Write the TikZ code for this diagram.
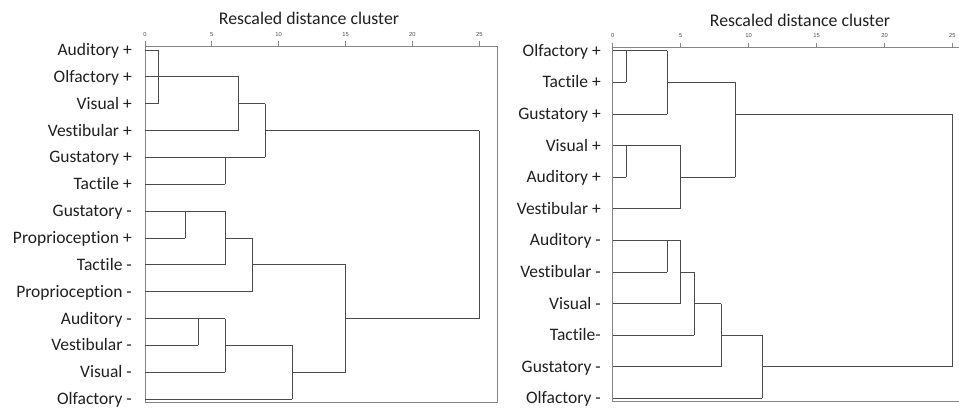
\documentclass[tikz,border=0pt]{standalone}
\usepackage{fontspec}
\setmainfont[Ligatures={NoCommon,NoContextual}]{Carlito}
\newfontfamily\tickfont{Liberation Sans}
\definecolor{txt}{HTML}{202020}
\definecolor{dline}{HTML}{4A4A4A}
\definecolor{fline}{HTML}{858585}
\newcommand\lxd[1]{(145+13.37*#1)}
\newcommand\lyr[1]{(50+26.85*#1)}
\newcommand\rxd[1]{(612.7+13.59*#1)}
\newcommand\ryr[1]{(50.8+31.6*#1)}
\tikzset{
  lbl/.style={anchor=base east, inner sep=0pt, text=txt, font=\fontsize{17.5}{20}\selectfont},
  ttl/.style={inner sep=0pt, text=txt, font=\fontsize{17.8}{20}\selectfont},
  ticklbl/.style={inner sep=0pt, text=txt!80, font=\tickfont\fontsize{5.8}{6}\selectfont},
  dend/.style={draw=dline, line width=0.9pt},
  frm/.style={draw=fline, line width=0.9pt},
}
\newcommand\LH[3]{\draw[dend] ({\lxd{#2}},{\lyr{#1}}) -- ({\lxd{#3}},{\lyr{#1}});}
\newcommand\LV[3]{\draw[dend] ({\lxd{#1}},{\lyr{#2}}) -- ({\lxd{#1}},{\lyr{#3}});}
\newcommand\RH[3]{\draw[dend] ({\rxd{#2}},{\ryr{#1}}) -- ({\rxd{#3}},{\ryr{#1}});}
\newcommand\RV[3]{\draw[dend] ({\rxd{#1}},{\ryr{#2}}) -- ({\rxd{#1}},{\ryr{#3}});}
\begin{document}
\begin{tikzpicture}[x=1pt,y=-1pt]
\useasboundingbox (0,0) rectangle (959,409);
\fill[white] (0,0) rectangle (959,409);

% ---------- LEFT PANEL ----------
\node[ttl] (ltitle) at (309,18.5) {Rescaled distance cluster};
\draw[frm] (145,46) rectangle (497.3,402.6);
\foreach \d in {0,5,10,15,20,25} {
  \draw[frm] ({\lxd{\d}},46) -- ({\lxd{\d}},41.5);
  \node[ticklbl] (ltick\d) at ({\lxd{\d}},34.5) {\d};
}
\foreach \t [count=\i from 0] in {Auditory +,Olfactory +,Visual +,Vestibular +,Gustatory +,Tactile +,Gustatory -,Proprioception +,Tactile -,Proprioception -,Auditory -,Vestibular -,Visual -,Olfactory -} {
  \node[lbl] (l\i) at (132,{\lyr{\i}+5.5}) {\t};
}
% upper cluster
\LH{0}{0}{1} \LH{2}{0}{1} \LV{1}{0}{2}
\LH{1}{0}{7} \LH{3}{0}{7} \LV{7}{1}{3}
\LH{2}{7}{9}
\LH{4}{0}{9} \LH{5}{0}{6} \LV{6}{4}{5}
\LV{9}{2}{4}
\LH{3}{9}{25}
\LV{25}{3}{10}
\LH{10}{15}{25}
% lower cluster
\LH{6}{0}{6} \LH{8}{0}{6} \LV{6}{6}{8}
\LH{7}{0}{3} \LV{3}{6}{7}
\LH{7}{6}{8} \LH{9}{0}{8} \LV{8}{7}{9}
\LH{8}{8}{15} \LV{15}{8}{12}
\LH{10}{0}{6} \LH{12}{0}{6} \LV{6}{10}{12}
\LH{11}{0}{4} \LV{4}{10}{11}
\LH{11}{6}{11} \LH{13}{0}{11} \LV{11}{11}{13}
\LH{12}{11}{15}

% ---------- RIGHT PANEL ----------
\node[ttl] (rtitle) at (800,20.5) {Rescaled distance cluster};
\draw[frm] (959,47.3) -- (612.7,47.3) -- (612.7,401.6) -- (959,401.6);
\foreach \d in {0,5,10,15,20,25} {
  \draw[frm] ({\rxd{\d}},47.3) -- ({\rxd{\d}},42.8);
  \node[ticklbl] (rtick\d) at ({\rxd{\d}},36) {\d};
}
\foreach \t [count=\i from 0] in {Olfactory +,Tactile +,Gustatory +,Visual +,Auditory +,Vestibular +,Auditory -,Vestibular -,Visual -,Tactile-,Gustatory -,Olfactory -} {
  \node[lbl] (r\i) at (601,{\ryr{\i}+5.5}) {\t};
}
% upper cluster
\RH{0}{0}{4} \RH{2}{0}{4} \RV{4}{0}{2}
\RH{1}{0}{1} \RV{1}{0}{1}
\RH{1}{4}{9}
\RH{3}{0}{5} \RH{5}{0}{5} \RV{5}{3}{5}
\RH{4}{0}{1} \RV{1}{3}{4}
\RH{4}{5}{9}
\RV{9}{1}{4}
\RH{2}{9}{25}
\RV{25}{2}{10}
\RH{10}{11}{25}
% lower cluster
\RH{6}{0}{5} \RH{8}{0}{5} \RV{5}{6}{8}
\RH{7}{0}{4} \RV{4}{6}{7}
\RH{7}{5}{6} \RH{9}{0}{6} \RV{6}{7}{9}
\RH{8}{6}{8} \RH{10}{0}{8} \RV{8}{8}{10}
\RH{9}{8}{11} \RH{11}{0}{11} \RV{11}{9}{11}
\end{tikzpicture}
\end{document}
